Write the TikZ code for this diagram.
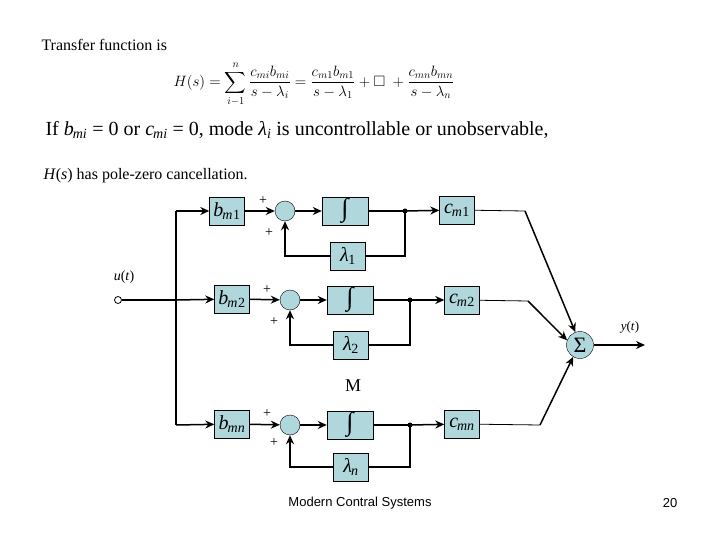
\RequirePackage{fix-cm}
\documentclass[tikz,border=0pt]{standalone}
\usepackage{amssymb,amsmath}
\usepackage{fontspec}
\setmainfont{Liberation Serif}
\newfontfamily\footfont{Liberation Sans}
\usetikzlibrary{arrows.meta}
\definecolor{blk}{RGB}{176,216,220}
\newcommand{\lab}[2]{\textit{#1}\textsubscript{\kern-1pt\textit{#2}}}
\begin{document}
\begin{tikzpicture}[x=1pt,y=-1pt,
  blkbox/.style={draw,fill=blk,minimum width=35pt,minimum height=28pt,inner sep=0pt,font=\fontsize{20}{22}\selectfont},
  intbox/.style={blkbox,minimum width=46pt,font=\fontsize{26}{26}\selectfont\bfseries},
  sumc/.style={draw,fill=blk,circle,minimum size=20pt,inner sep=0pt},
  sig/.style={draw,fill=blk,circle,minimum size=27pt,inner sep=0pt,font=\fontsize{22}{22}\selectfont},
  ln/.style={line width=1.5pt},
  arr/.style={ln,-{Stealth[length=9pt,width=8pt]}},
  dot/.style={circle,fill,inner sep=0pt,minimum size=5pt},
  pl/.style={font=\fontsize{14}{14}\selectfont,inner sep=0pt}]
\useasboundingbox (0,0) rectangle (720,540);
\node[anchor=west,font=\fontsize{16}{18}\selectfont] (t1) at (38,45) {Transfer function is};
\node[anchor=west,font=\fontsize{15}{18}\selectfont] (eq) at (170,84) {$\displaystyle H(s)=\sum_{i-1}^{n}\dfrac{c_{mi}b_{mi}}{s-\lambda_i}=\dfrac{c_{m1}b_{m1}}{s-\lambda_1}+\Box\;+\dfrac{c_{mn}b_{mn}}{s-\lambda_n}$};
\node[anchor=west,font=\fontsize{20}{22}\selectfont] (t2) at (42,130) {If \lab{b}{mi} = 0 or \lab{c}{mi} = 0, mode \textit{λ}\textsubscript{\textit{i}} is uncontrollable or unobservable,};
\node[anchor=west,font=\fontsize{16}{18}\selectfont] (t3) at (40,176) {\textit{H}(\textit{s}) has pole-zero cancellation.};

% row 1
\node[blkbox] (b1) at (227,211) {\lab{b}{m}\textsubscript{1}};
\node[sumc] (s1) at (285,211) {};
\node[intbox] (i1) at (345,211) {∫};
\node[dot] (d1) at (405,211) {};
\node[blkbox] (c1) at (457,210) {\lab{c}{m}\textsubscript{1}};
\node[blkbox] (l1) at (348,256) {\lab{λ}{}\textsubscript{1}};
% row 2
\node[blkbox] (b2) at (232,299) {\lab{b}{m}\textsubscript{2}};
\node[sumc] (s2) at (290,300) {};
\node[intbox] (i2) at (350,300) {∫};
\node[dot] (d2) at (410,300) {};
\node[blkbox] (c2) at (462,300) {\lab{c}{m}\textsubscript{2}};
\node[blkbox] (l2) at (351,345) {\lab{λ}{}\textsubscript{2}};
% row n
\node[blkbox] (bn) at (232,424) {\lab{b}{mn}};
\node[sumc] (sn) at (290,425) {};
\node[intbox] (in) at (350,425) {∫};
\node[dot] (dn) at (410,425) {};
\node[blkbox] (cn) at (462,424) {\lab{c}{mn}};
\node[blkbox] (ln) at (351,467) {\lab{λ}{n}};

\node[font=\fontsize{18}{20}\selectfont] (M) at (353,386) {M};
\node[sig] (S) at (580,345) {Σ};
\node[draw,circle,minimum size=7pt,inner sep=0pt,thick] (u) at (118,300) {};
\node[font=\fontsize{14}{16}\selectfont] (ul) at (124,277) {\textit{u}(\textit{t})};
\coordinate (y) at (645,345);
\node[font=\fontsize{13}{15}\selectfont] (yl) at (630,327) {\textit{y}(\textit{t})};
\coordinate (j1) at (176,211);
\coordinate (j2) at (176,300);
\coordinate (jn) at (176,425);

\draw[ln] (u) -- (j2);
\draw[ln] (j1) -- (jn);
\draw[arr] (j1) -- (b1);
\draw[arr] (j2) -- (b2);
\draw[arr] (jn) -- (bn);
\foreach \r in {1,2,n}{
  \draw[arr] (b\r) -- (s\r);
  \draw[arr] (s\r) -- (i\r);
  \draw[ln] (i\r) -- (d\r.center);
  \draw[arr] (d\r.center) -- (c\r);
  \draw[ln] (d\r.center) |- (l\r);
  \draw[arr] (l\r) -| (s\r);
}
\node[pl] at (263,201) {+};
\node[pl] at (269,233) {+};
\node[pl] at (267,290) {+};
\node[pl] at (274,322) {+};
\node[pl] at (267,414) {+};
\node[pl] at (274,443) {+};
\coordinate (k1) at (525,211);
\coordinate (k2) at (528,301);
\coordinate (kn) at (540,425);
\draw[thick] (c1) -- (k1);
\draw[thick] (c2) -- (k2);
\draw[thick] (cn) -- (kn);
\draw[arr] (k1) -- (S.110);
\draw[arr] (k2) -- (S.160);
\draw[arr] (kn) -- (S.240);
\draw[arr] (S) -- (y);

\node[font=\footfont\fontsize{13}{15}\selectfont] (f1) at (360,503) {Modern Contral Systems};
\node[font=\footfont\fontsize{13}{15}\selectfont] (f2) at (670,503) {20};
\end{tikzpicture}
\end{document}
